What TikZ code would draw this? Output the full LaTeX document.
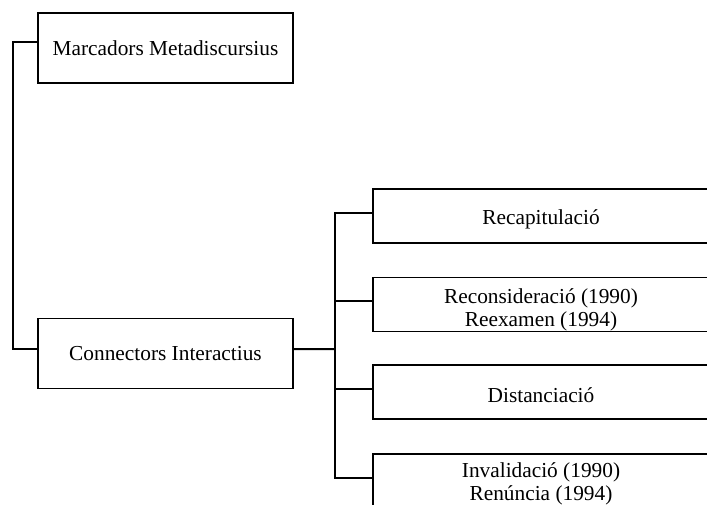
\documentclass[tikz,border=0pt]{standalone}
\usepackage{fontspec}
\setmainfont{Liberation Serif}
\usetikzlibrary{calc,positioning}

\begin{document}
\begin{tikzpicture}[x=0.75pt,y=-0.75pt,
    box/.style={draw, line width=1.4pt, inner sep=0pt, align=center,
        font=\fontsize{16pt}{17.25pt}\selectfont},
    leftbox/.style={box, minimum width=191.25pt, minimum height=52.5pt},
    rightbox/.style={box, minimum width=254.25pt, minimum height=40.5pt},
    boxtext/.style={inner sep=0pt, align=center, font=\fontsize{16pt}{17.25pt}\selectfont},
    link/.style={line width=1.4pt}]
    \useasboundingbox (0,0) rectangle (707,504);

    \node[leftbox] (marc) at (165.5,48) {Marcadors Metadiscursius};
    \node[leftbox] (conn) at (165.5,353.5) {Connectors Interactius};

    \node[rightbox] (recap) at (542.5,216) {};
    \node[rightbox] (recons) at (542.5,304.5) {};
    \node[rightbox] (dist) at (542.5,392) {};
    \node[rightbox] (inval) at (542.5,481) {};

    \node[boxtext] (recap-t) at (541,219) {Recapitulació};
    \node[boxtext] (recons-t) at (541,310) {Reconsideració (1990)\\Reexamen (1994)};
    \node[boxtext] (dist-t) at (541,395) {Distanciació};
    \node[boxtext] (inval-t) at (541,484) {Invalidació (1990)\\Renúncia (1994)};

    \draw[link] ([yshift=4.5pt]marc.west) -- ++(-24,0) |- ([yshift=3.3pt]conn.west);

    \coordinate (split) at ($(conn.east)+(41,-4.4)$);
    \draw[link] ([yshift=3.3pt]conn.east) -- (split);
    \foreach \b in {recap,recons,dist,inval}
        \coordinate (\b-in) at ([yshift=2.5pt]\b.west);
    \draw[link, line cap=rect] (split |- recap-in) -- (split |- inval-in);
    \foreach \b in {recap,recons,dist,inval}
        \draw[link] (split |- \b-in) -- (\b-in);
\end{tikzpicture}
\end{document}
